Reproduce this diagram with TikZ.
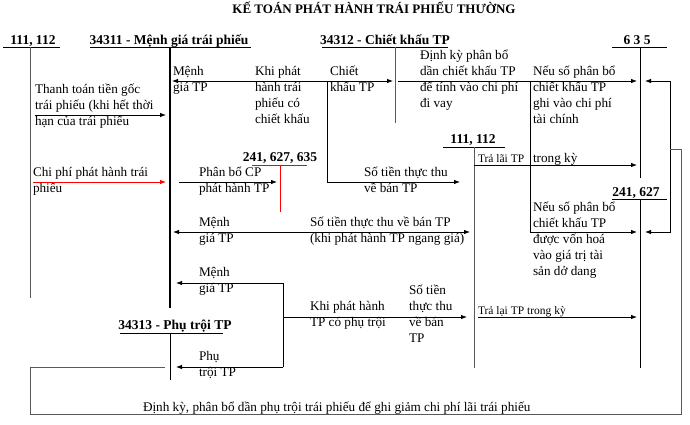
\documentclass[tikz,border=0pt]{standalone}
\usepackage{fontspec}
\setmainfont{Liberation Serif}
\usetikzlibrary{calc,arrows.meta,positioning}

\begin{document}
\begin{tikzpicture}[x=1pt,y=-1pt,>={Latex[length=6pt,width=4.5pt]},line width=0.8pt,
  every node/.style={inner sep=0pt,outer sep=0pt,font=\fontsize{13.2}{16}\selectfont},
  txt/.style={anchor=north west,align=left,yshift=13pt,execute at begin node={\rule{0pt}{13pt}}},
  small/.style={anchor=base west,font=\fontsize{11.5}{14}\selectfont},
  acc/.style={anchor=base,font=\fontsize{13.5}{16}\selectfont\bfseries},
  stem/.style={draw=black!65},
  rule/.style={line width=1pt}]
  \useasboundingbox (0,0) rectangle (690,424);

  % Title
  \node[anchor=base,font=\fontsize{13}{16}\selectfont\bfseries] (title) at (374,13)
    {KẾ TOÁN PHÁT HÀNH TRÁI PHIẾU THƯỜNG};

  % --- Accounts (header, rule, stem) ---
  \node[acc] (h111) at (33,44) {111, 112};
  \coordinate (s111) at (30,47);
  \draw[rule] ($(s111)+(-27,0)$) -- ($(s111)+(30,0)$);
  \draw[stem] (s111) -- ($(s111)+(0,251)$);

  \node[acc] (h34311) at (169,44) {34311 - Mệnh giá trái phiếu};
  \coordinate (s34311) at (170,47);
  \draw[rule] ($(s34311)+(-80,0)$) -- ($(s34311)+(81,0)$);
  \draw[line width=1.8pt] (s34311) -- ($(s34311)+(0,261)$);

  \node[acc] (h34312) at (385,44) {34312 - Chiết khấu TP};
  \coordinate (s34312) at (395,47);
  \draw[rule] ($(s34312)+(-73,0)$) -- ($(s34312)+(53,0)$);
  \draw[stem] (s34312) -- ($(s34312)+(0,76)$);

  \node[acc] (h635) at (637,44) {6 3 5};
  \coordinate (s635) at (640,47);
  \draw[rule] ($(s635)+(-28,0)$) -- ($(s635)+(27,0)$);
  \draw (s635) -- ($(s635)+(0,131)$);

  \node[acc] (h111b) at (473,143) {111, 112};
  \coordinate (s111b) at (474,147);
  \draw[rule] ($(s111b)+(-31,0)$) -- ($(s111b)+(31,0)$);
  \draw[stem] (s111b) -- ($(s111b)+(0,221)$);

  \node[acc] (h241a) at (280,161) {241, 627, 635};
  \coordinate (s241a) at (280,165);
  \draw[red] ($(s241a)+(-28,0)$) -- ($(s241a)+(27,0)$);
  \draw[red] (s241a) -- ($(s241a)+(0,47)$);

  \node[acc] (h241b) at (636,196) {241, 627};
  \coordinate (s241b) at (640,199);
  \draw[rule] ($(s241b)+(-28,0)$) -- ($(s241b)+(27,0)$);
  \draw (s241b) -- ($(s241b)+(0,169)$);

  \node[acc] (h34313) at (175,329) {34313 - Phụ trội TP};
  \coordinate (s34313) at (170,333);
  \draw[rule] ($(s34313)+(-50,0)$) -- ($(s34313)+(53,0)$);
  \draw (s34313) -- ($(s34313)+(0,47)$);

  % Rows and bends
  \coordinate (rA) at (0,81);
  \coordinate (rB) at (0,115);
  \coordinate (rC) at (0,165);
  \coordinate (rD) at (0,182);
  \coordinate (rE) at (0,232);
  \coordinate (rF) at (0,283);
  \coordinate (rG) at (0,317);
  \coordinate (rH) at (0,367);
  \coordinate (rI) at (0,414);
  \coordinate (rJ) at (0,149);
  \coordinate (cK) at (327,0);
  \coordinate (cN) at (530,0);
  \coordinate (cP) at (283,0);
  \coordinate (cR) at (670,0);
  \coordinate (cQ) at (681,0);

  % --- Texts ---
  \node[txt] (tMg1) at (173,79) {Mệnh\\giá TP};
  \node[txt] (tKhi1) at (255,79) {Khi phát\\hành trái\\phiếu có\\chiết khấu};
  \node[txt] (tChiet) at (330,79) {Chiết\\khấu TP};
  \node[txt] (tDinh) at (420,63) {Định kỳ phân bổ\\dần chiết khấu TP\\để tính vào chi phí\\đi vay};
  \node[txt] (tNeu1) at (533,79) {Nếu số phân bổ\\chiết khấu TP\\ghi vào chi phí\\tài chính};
  \node[txt] (tPay) at (35,97) {Thanh toán tiền gốc\\trái phiếu (khi hết thời\\hạn của trái phiếu};
  \node[small] (tLai) at (478,162) {Trả lãi TP};
  \node[txt] (tTrong) at (533,162) {trong kỳ};
  \node[txt] (tCost) at (33,180) {Chi phí phát hành trái\\phiếu};
  \node[txt] (tPhanBo) at (199,180) {Phân bổ CP\\phát hành TP};
  \node[txt] (tThu1) at (364,180) {Số tiền thực thu\\về bán TP};
  \node[txt] (tNeu2) at (533,215) {Nếu số phân bổ\\chiết khấu TP\\được vốn hoá\\vào giá trị tài\\sản dở dang};
  \node[txt] (tMg2) at (199,230) {Mệnh\\giá TP};
  \node[txt] (tThu2) at (310,230) {Số tiền thực thu về bán TP\\(khi phát hành TP ngang giá)};
  \node[txt] (tMg3) at (199,280) {Mệnh\\giá TP};
  \node[txt] (tThu3) at (409,298) {Số tiền\\thực thu\\về bán\\TP};
  \node[txt] (tKhi2) at (310,314) {Khi phát hành\\TP có phụ trội};
  \node[small] (tTraLai) at (478,314) {Trả lại TP trong kỳ};
  \node[txt] (tPhu) at (199,364) {Phụ\\trội TP};
  \node[txt] (tBottom) at (143,411) {Định kỳ, phân bổ dần phụ trội trái phiếu để ghi giảm chi phí lãi trái phiếu};

  % --- Connectors ---
  \draw[->,shorten >=4pt] (rB -| tPay.west) -- (rB -| s34311);
  \draw[->,red,shorten >=4pt] (rD -| tCost.west) -- (rD -| s34311);
  \draw[->,shorten <=9pt,shorten >=3pt] (rD -| s34311) -- (rD -| s241a);
  \draw[<->,shorten <=2pt,shorten >=2pt] (rA -| s34311) -- (rA -| s34312);
  \draw[->,shorten <=3pt,shorten >=3pt] (rA -| s34312) -- (rA -| s635);
  \draw[->,shorten >=14pt] (rA -| cK) |- (rD -| s111b);
  \draw[->,shorten >=3pt] (rA -| cN) |- (rE -| s241b);
  \draw[->,shorten >=3pt] (rC -| s111b) -- (rC -| s635);
  \draw[<->,shorten <=3pt,shorten >=4pt] (rE -| s34311) -- (rE -| s111b);
  \draw[->,shorten >=6pt] (rF -| cP) -- (rF -| s34311);
  \draw (rF -| cP) -- (rH -| cP);
  \draw[->,shorten >=6pt] (rH -| cP) -- (rH -| s34313);
  \draw[->,shorten >=7pt] (rG -| cP) -- (rG -| s111b);
  \draw[->,shorten <=4pt,shorten >=3pt] (rG -| s111b) -- (rG -| s241b);
  % feedback to 635 and 241, 627
  \draw[<->,shorten <=5pt,shorten >=5pt] (rA -| s635) -- (rA -| cR) -- (rE -| cR) -- (rE -| s241b);
  \draw[stem] (rJ -| cR) -- (rJ -| cQ) |- (rI -| s111) -- (rH -| s111) -- ($(rH -| s34313)+(-5,0)$);
\end{tikzpicture}
\end{document}
